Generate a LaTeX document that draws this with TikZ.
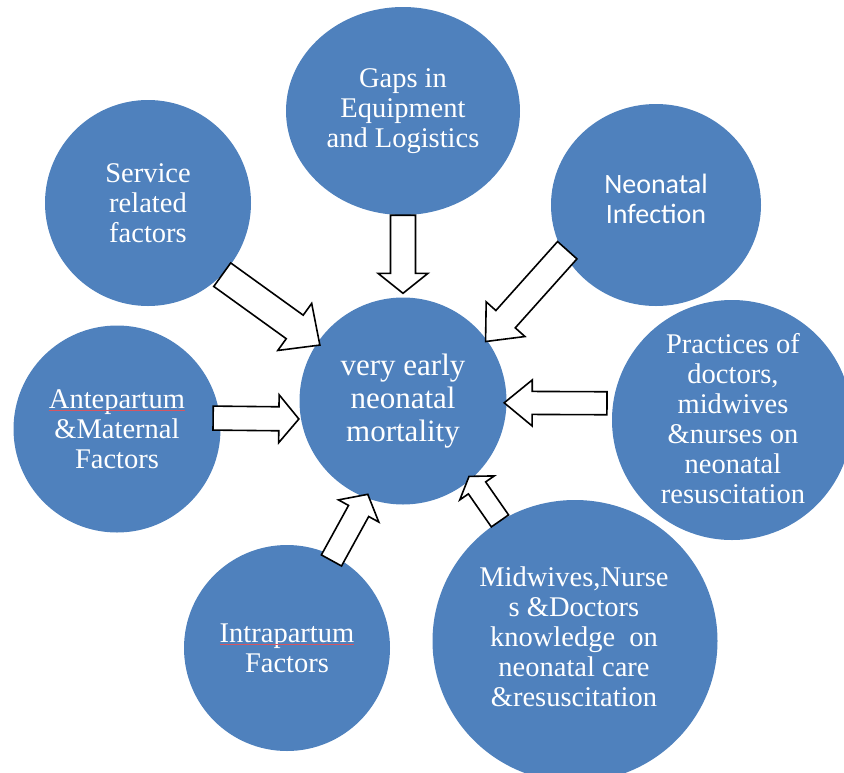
\documentclass[tikz,border=0pt]{standalone}
\usepackage{fontspec}
\setmainfont{Liberation Serif}
\newfontfamily\carlito{Carlito}
\usetikzlibrary{shapes.geometric,calc}

\definecolor{factorblue}{RGB}{79,129,189}
\definecolor{spellred}{RGB}{214,86,98}

\tikzset{
  factor/.style={ellipse,fill=factorblue,inner sep=0pt},
  factortext/.style={text=white,align=center,inner sep=0pt,font=\fontsize{28.5}{30}\selectfont},
  arrowbox/.style={draw=black,fill=white,line width=1.6pt,line join=miter}
}

% block arrow: tail anchor, tip anchor, tail shift, tip gap, half shaft, head length
\newcommand{\blockarrow}[6]{%
  \coordinate (t) at ($(#1)!#3!(#2)$);
  \coordinate (h) at ($(#2)!#4!(#1)$);
  \coordinate (n) at ($(h)!#6!(t)$);
  \draw[arrowbox] ($(t)!#5!90:(h)$) -- ($(n)!#5!90:(h)$) -- ($(n)!2*#5!90:(h)$) -- (h)
    -- ($(n)!2*#5!-90:(h)$) -- ($(n)!#5!-90:(h)$) -- ($(t)!#5!-90:(h)$) -- cycle;
}

\begin{document}
\begin{tikzpicture}[x=1pt,y=-1pt]
  \useasboundingbox (0,0) rectangle (844,772);
  \clip (0,0) rectangle (844,772);

  % circles
  \node[factor,minimum width=207pt,minimum height=207pt] (mort) at (403,401) {};
  \node[factor,minimum width=234pt,minimum height=208pt] (gaps) at (403,111) {};
  \node[factor,minimum width=206pt,minimum height=206pt] (service) at (148,203) {};
  \node[factor,minimum width=210pt,minimum height=202pt] (infection) at (656,205) {};
  \node[factor,minimum width=207pt,minimum height=207pt] (ante) at (117,429) {};
  \node[factor,minimum width=240pt,minimum height=240pt] (practices) at (732,420) {};
  \node[factor,minimum width=206pt,minimum height=206pt] (intra) at (287,648) {};
  \node[factor,minimum width=285pt,minimum height=282pt] (midwives) at (575,641) {};

  % texts
  \node[factortext,font=\fontsize{31}{33}\selectfont] (mort-t) at (mort) {very early\\neonatal\\mortality};
  \node[factortext] (gaps-t) at (gaps) {Gaps in\\Equipment\\and Logistics};
  \node[factortext] (service-t) at (service) {Service\\related\\factors};
  \node[factortext,font=\carlito\fontsize{28}{30}\selectfont] (infection-t) at ($(infection)+(0,-6)$) {Neonatal\\Infection};
  \node[factortext] (ante-t) at (ante) {Antepartum\\\&Maternal\\Factors};
  \node[factortext] (practices-t) at (733,419) {Practices of\\doctors,\\midwives\\\&nurses on\\neonatal\\resuscitation};
  \node[factortext] (intra-t) at (intra) {Intrapartum\\Factors};
  \node[factortext] (midwives-t) at (574,637) {Midwives,Nurse\\s \&Doctors\\knowledge~ on\\neonatal care\\\&resuscitation};

  % spell-check marks
  \draw[spellred,line width=1.2pt] ($(ante-t.north west)+(0,21)$) -- ($(ante-t.north east)+(0,21)$);
  \draw[spellred,line width=1.2pt] ($(intra-t.north west)+(0,21)$) -- ($(intra-t.north east)+(0,21)$);

  % arrows
  \blockarrow{gaps.south}{mort.north}{0pt}{4pt}{12.5pt}{20pt}
  \blockarrow{service.-44}{mort.146}{0pt}{-3.5pt}{14.5pt}{31pt}
  \blockarrow{infection.208}{mort.36}{-5pt}{-2pt}{13pt}{30pt}
  \blockarrow{ante.6}{mort.190}{-7pt}{2pt}{12pt}{20pt}
  \blockarrow{practices.172}{mort.-1}{6pt}{-2.5pt}{11.5pt}{28pt}
  \blockarrow{intra.63}{mort.249}{-5pt}{-4pt}{11.5pt}{19pt}
  \blockarrow{midwives.122}{mort.311}{0pt}{-3.5pt}{10.5pt}{14pt}
\end{tikzpicture}
\end{document}
